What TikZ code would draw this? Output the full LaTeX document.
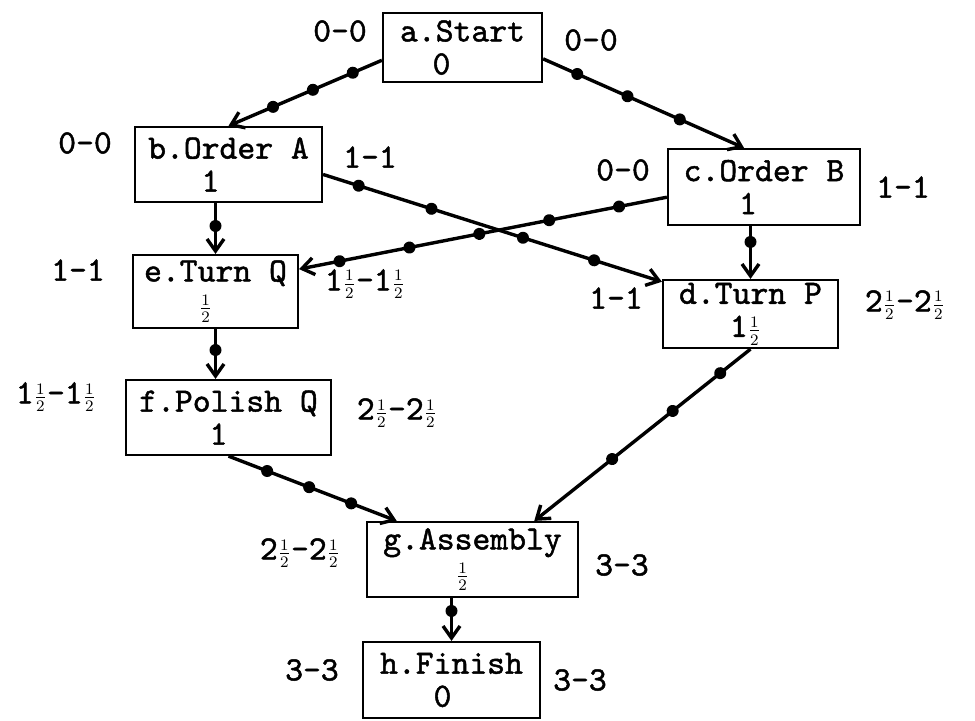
\documentclass[tikz,border=0pt]{standalone}
\usepackage{fontspec}
\newfontfamily\tw{lmmono10-regular.otf}[FakeBold=1.4]
\usetikzlibrary{arrows.meta,decorations.markings}
\newcommand\hlf{\ensuremath{{\scriptstyle\frac{1}{2}}}}
\begin{document}
\begin{tikzpicture}[x=0.5pt,y=-0.5pt,
  every node/.style={font=\tw\fontsize{17pt}{16.5pt}\selectfont},
  box/.style={draw,line width=1.1pt,inner sep=0pt,align=center},
  lbl/.style={inner sep=0pt},
  link/.style={line width=1.7pt,-{Straight Barb[length=6pt,width=8.5pt]}},
  dotat/.style={postaction={decorate,decoration={markings,mark=at position #1 with {\fill (0,0) circle (3pt);}}}}]
\useasboundingbox (0,0) rectangle (975,720);

% activity boxes
\node[box,minimum width=79.5pt,minimum height=34.5pt] (a) at (462.5,47.5) {a.Start\\0\hspace*{21pt}};
\node[box,minimum width=93.5pt,minimum height=37.5pt] (b) at (228.5,164.5) {b.Order A\\1\hspace*{18pt}};
\node[box,minimum width=96pt,minimum height=38pt] (c) at (764,187) {c.Order B\\1\hspace*{16pt}};
\node[box,minimum width=87.5pt,minimum height=34pt] (d) at (750.5,314) {d.Turn P\\1\hlf\hspace*{5pt}};
\node[box,minimum width=82.5pt,minimum height=36.5pt] (e) at (215.5,291.5) {e.Turn Q\\\hlf\hspace*{10pt}};
\node[box,minimum width=102.5pt,minimum height=37.5pt] (f) at (228.5,417.5) {f.Polish Q\\1\hspace*{10pt}};
\node[box,minimum width=105.5pt,minimum height=37.5pt] (g) at (472.5,559.5) {g.Assembly\\\hlf\hspace*{10pt}};
\node[box,minimum width=88.5pt,minimum height=38pt] (h) at (451.5,680) {h.Finish\\0\hspace*{9pt}};

% time labels
\node[lbl] (la1) at (340,31) {0-0};
\node[lbl] (la2) at (591,40) {0-0};
\node[lbl] (lb1) at (85,143) {0-0};
\node[lbl] (lb2) at (370,157) {1-1};
\node[lbl] (lc1) at (623,170) {0-0};
\node[lbl] (lc2) at (903,187) {1-1};
\node[lbl] (ld1) at (616,298) {1-1};
\node[lbl] (ld2) at (905,305) {2\hlf-2\hlf};
\node[lbl] (le1) at (78,270) {1-1};
\node[lbl] (le2) at (365,284) {1\hlf-1\hlf};
\node[lbl] (lf1) at (56,397) {1\hlf-1\hlf};
\node[lbl] (lf2) at (397,413) {2\hlf-2\hlf};
\node[lbl] (lg1) at (300,553) {2\hlf-2\hlf};
\node[lbl] (lg2) at (622,565) {3-3};
\node[lbl] (lh1) at (312,670) {3-3};
\node[lbl] (lh2) at (580,680) {3-3};

% connectors
\draw[link,dotat/.list={0.19,0.45,0.71}] (a.189) -- (b.north);
\draw[link,dotat/.list={0.17,0.42,0.68}] (a.352) -- (c.117);
\draw[link,dotat=0.45] (b.south -| e.north) -- (e.north);
\draw[link,dotat/.list={0.105,0.32,0.59,0.80}] (b.354) -- (d.160);
\draw[link,dotat/.list={0.13,0.32,0.51,0.70,0.89}] (c.186) -- (e.15);
\draw[link,dotat=0.3] (c.south -| d.north) -- (d.north);
\draw[link,dotat=0.42] (e.south) -- (e.south |- f.north);
\draw[link,dotat/.list={0.23,0.48,0.73}] (f.south) -- (g.153);
\draw[link,dotat/.list={0.14,0.36,0.64}] (d.south) -- (g.32);
\draw[link,dotat=0.3] (g.south -| h.north) -- (h.north);
\end{tikzpicture}
\end{document}
